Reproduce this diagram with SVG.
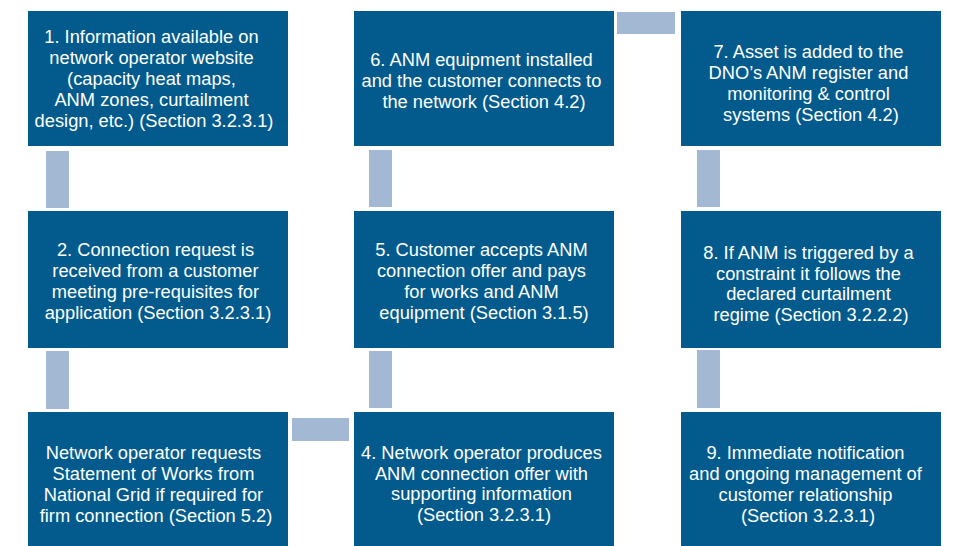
<svg xmlns="http://www.w3.org/2000/svg" width="953" height="546" viewBox="0 0 953 546">
  <style>
    .box { fill: #035B8D; }
    .link { fill: #A2B8D3; }
    .label { fill: #FFFFFF; font-family: "Liberation Sans", Arial, sans-serif; font-size: 18.3px; text-anchor: middle; }
  </style>
  <rect width="953" height="546" fill="#FFFFFF"/>

  <!-- connectors between process steps -->
  <g id="connectors">
    <rect class="link" x="46" y="151" width="23" height="57"/>
    <rect class="link" x="46" y="351" width="23" height="58"/>
    <rect class="link" x="292" y="418" width="57" height="23"/>
    <rect class="link" x="369" y="351" width="23" height="57"/>
    <rect class="link" x="369" y="150" width="23" height="57"/>
    <rect class="link" x="617" y="12" width="58" height="22"/>
    <rect class="link" x="697" y="150" width="23" height="57"/>
    <rect class="link" x="697" y="350" width="23" height="58"/>
  </g>

  <g id="step1">
    <rect class="box" x="28" y="11" width="260" height="135"/>
    <text class="label">
      <tspan x="154" y="43">1. Information available on</tspan>
      <tspan x="154" y="64">network operator website</tspan>
      <tspan x="154" y="85">(capacity heat maps,</tspan>
      <tspan x="154" y="106">ANM zones, curtailment</tspan>
      <tspan x="154" y="127">design, etc.) (Section 3.2.3.1)</tspan>
    </text>
  </g>

  <g id="step2">
    <rect class="box" x="28" y="211" width="260" height="137"/>
    <text class="label">
      <tspan x="158" y="256">2. Connection request is</tspan>
      <tspan x="158" y="277">received from a customer</tspan>
      <tspan x="158" y="298">meeting pre-requisites for</tspan>
      <tspan x="158" y="319">application (Section 3.2.3.1)</tspan>
    </text>
  </g>

  <g id="step3">
    <rect class="box" x="28" y="412" width="260" height="140"/>
    <text class="label">
      <tspan x="156" y="459">Network operator requests</tspan>
      <tspan x="156" y="480">Statement of Works from</tspan>
      <tspan x="156" y="501">National Grid if required for</tspan>
      <tspan x="156" y="522">firm connection (Section 5.2)</tspan>
    </text>
  </g>

  <g id="step4">
    <rect class="box" x="354" y="412" width="260" height="140"/>
    <text class="label">
      <tspan x="484" y="459">4. Network operator produces</tspan>
      <tspan x="484" y="480">ANM connection offer with</tspan>
      <tspan x="484" y="500">supporting information</tspan>
      <tspan x="484" y="521">(Section 3.2.3.1)</tspan>
    </text>
  </g>

  <g id="step5">
    <rect class="box" x="354" y="211" width="260" height="137"/>
    <text class="label">
      <tspan x="484" y="256">5. Customer accepts ANM</tspan>
      <tspan x="484" y="277">connection offer and pays</tspan>
      <tspan x="484" y="298">for works and ANM</tspan>
      <tspan x="484" y="319">equipment (Section 3.1.5)</tspan>
    </text>
  </g>

  <g id="step6">
    <rect class="box" x="354" y="11" width="260" height="135"/>
    <text class="label">
      <tspan x="484" y="66">6. ANM equipment installed</tspan>
      <tspan x="484" y="87">and the customer connects to</tspan>
      <tspan x="484" y="108">the network (Section 4.2)</tspan>
    </text>
  </g>

  <g id="step7">
    <rect class="box" x="681" y="11" width="260" height="135"/>
    <text class="label">
      <tspan x="811" y="58">7. Asset is added to the</tspan>
      <tspan x="811" y="79">DNO’s ANM register and</tspan>
      <tspan x="811" y="100">monitoring &amp; control</tspan>
      <tspan x="811" y="121">systems (Section 4.2)</tspan>
    </text>
  </g>

  <g id="step8">
    <rect class="box" x="681" y="211" width="260" height="137"/>
    <text class="label">
      <tspan x="811" y="259">8. If ANM is triggered by a</tspan>
      <tspan x="811" y="280">constraint it follows the</tspan>
      <tspan x="811" y="300">declared curtailment</tspan>
      <tspan x="811" y="321">regime (Section 3.2.2.2)</tspan>
    </text>
  </g>

  <g id="step9">
    <rect class="box" x="681" y="412" width="260" height="140"/>
    <text class="label">
      <tspan x="808" y="459">9. Immediate notification</tspan>
      <tspan x="808" y="480">and ongoing management of</tspan>
      <tspan x="808" y="501">customer relationship</tspan>
      <tspan x="808" y="522">(Section 3.2.3.1)</tspan>
    </text>
  </g>
</svg>
